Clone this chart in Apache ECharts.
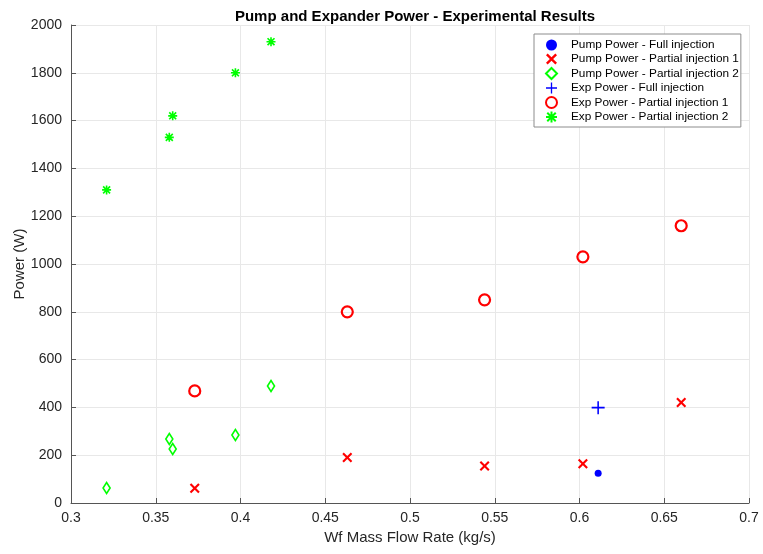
<!DOCTYPE html>
<html>
<head>
<meta charset="utf-8">
<script src="https://cdn.jsdelivr.net/npm/echarts@6/dist/echarts.min.js"></script>
<style>
  html, body { margin: 0; padding: 0; background: #fff; }
  #main { width: 763px; height: 554px; }
</style>
</head>
<body>
<div id="main"></div>
<script>
// values (x = kg/s, y = W)
let pumpFullX = [0.611];
let pumpFullY = [125];
let pumpPart1X = [0.373, 0.463, 0.544, 0.602, 0.660];
let pumpPart1Y = [62, 190, 155, 164, 421];
let pumpPart2X = [0.321, 0.358, 0.360, 0.397, 0.418];
let pumpPart2Y = [63, 268, 226, 285, 490];
let expFullX = [0.611];
let expFullY = [399];
let expPart1X = [0.373, 0.463, 0.544, 0.602, 0.660];
let expPart1Y = [469, 800, 850, 1030, 1160];
let expPart2X = [0.321, 0.358, 0.360, 0.397, 0.418];
let expPart2Y = [1310, 1530, 1620, 1800, 1930];

let seriesNames = [
    'Pump Power - Full injection',
    'Pump Power - Partial injection 1',
    'Pump Power - Partial injection 2',
    'Exp Power - Full injection',
    'Exp Power - Partial injection 1',
    'Exp Power - Partial injection 2'
];

function pairs(xs, ys) {
    let out = [];
    for (let i = 0; i < xs.length; i = i + 1) {
        out.push([xs[i], ys[i]]);
    }
    return out;
}

// marker shapes (filled outlines)
let crossPath = 'path://M0,1.5 L1.5,0 L5,3.5 L8.5,0 L10,1.5 L6.5,5 L10,8.5 L8.5,10 L5,6.5 L1.5,10 L0,8.5 L3.5,5 Z';
let plusPath = 'path://M4.4,0 L5.6,0 L5.6,4.4 L10,4.4 L10,5.6 L5.6,5.6 L5.6,10 L4.4,10 L4.4,5.6 L0,5.6 L0,4.4 L4.4,4.4 Z';
let starPath = 'path://M4.1,0 L5.9,0 L5.9,4.1 L10,4.1 L10,5.9 L5.9,5.9 L5.9,10 L4.1,10 L4.1,5.9 L0,5.9 L0,4.1 L4.1,4.1 Z ' +
    'M0.5,1.8 L1.8,0.5 L5,3.7 L8.2,0.5 L9.5,1.8 L6.3,5 L9.5,8.2 L8.2,9.5 L5,6.3 L1.8,9.5 L0.5,8.2 L3.7,5 Z';

let chart = echarts.init(document.getElementById('main'));

let font = 'Liberation Sans, Arial, Helvetica, sans-serif';

let option = {
    backgroundColor: '#ffffff',
    animation: false,
    title: {
        text: 'Pump and Expander Power - Experimental Results',
        left: 410,
        top: 4,
        textAlign: 'center',
        textStyle: { fontFamily: font, fontSize: 15, fontWeight: 'bold', color: '#000' }
    },
    grid: { left: 71, right: 14, top: 25, bottom: 51, containLabel: false, outerBoundsMode: 'none' },
    legend: {
        orient: 'vertical',
        left: 534,
        top: 34,
        padding: [5, 2, 4, 11],
        itemWidth: 11,
        itemHeight: 11,
        itemGap: 2,
        borderColor: '#8c8c8c',
        borderWidth: 1,
        backgroundColor: '#fff',
        textStyle: { fontFamily: font, fontSize: 11.8, color: '#000', padding: [0, 0, 0, 9] },
        data: seriesNames
    },
    xAxis: {
        type: 'value',
        min: 0.3,
        max: 0.7,
        interval: 0.05,
        name: 'Wf Mass Flow Rate (kg/s)',
        nameLocation: 'middle',
        nameGap: 27,
        nameMoveOverlap: false,
        nameTextStyle: { fontFamily: font, fontSize: 15, color: '#262626' },
        axisLine: { show: true, lineStyle: { color: '#555', width: 1 } },
        axisTick: { show: true, inside: true, length: 5, lineStyle: { color: '#555' } },
        axisLabel: {
            fontFamily: font, fontSize: 14, color: '#262626', margin: 8,
            formatter: function (v) { return String(+v.toFixed(2)); }
        },
        splitLine: { show: true, lineStyle: { color: '#e8e8e8', width: 1 } }
    },
    yAxis: {
        type: 'value',
        min: 0,
        max: 2000,
        interval: 200,
        name: 'Power (W)',
        nameLocation: 'middle',
        nameGap: 44,
        nameMoveOverlap: false,
        nameTextStyle: { fontFamily: font, fontSize: 15, color: '#262626' },
        axisLine: { show: true, lineStyle: { color: '#555', width: 1 } },
        axisTick: { show: true, inside: true, length: 5, lineStyle: { color: '#555' } },
        axisLabel: {
            fontFamily: font, fontSize: 14, color: '#262626', margin: 9,
            formatter: function (v) { return String(v); }
        },
        splitLine: { show: true, lineStyle: { color: '#e8e8e8', width: 1 } }
    },
    series: [
        {
            name: seriesNames[0],
            type: 'scatter',
            data: pairs(pumpFullX, pumpFullY),
            symbol: 'circle',
            symbolSize: 7,
            itemStyle: { color: '#0000ff', opacity: 1 }
        },
        {
            name: seriesNames[1],
            type: 'scatter',
            data: pairs(pumpPart1X, pumpPart1Y),
            symbol: crossPath,
            symbolSize: 10,
            itemStyle: { color: '#ff0000', opacity: 1 }
        },
        {
            name: seriesNames[2],
            type: 'scatter',
            data: pairs(pumpPart2X, pumpPart2Y),
            symbol: 'diamond',
            symbolSize: [7, 11],
            itemStyle: { color: 'rgba(255,255,255,0)', borderColor: '#00ff00', borderWidth: 1.7, opacity: 1 }
        },
        {
            name: seriesNames[3],
            type: 'scatter',
            data: pairs(expFullX, expFullY),
            symbol: plusPath,
            symbolSize: 13,
            itemStyle: { color: '#0000ff', opacity: 1 }
        },
        {
            name: seriesNames[4],
            type: 'scatter',
            data: pairs(expPart1X, expPart1Y),
            symbol: 'circle',
            symbolSize: 11,
            itemStyle: { color: 'rgba(255,255,255,0)', borderColor: '#ff0000', borderWidth: 2.2, opacity: 1 }
        },
        {
            name: seriesNames[5],
            type: 'scatter',
            data: pairs(expPart2X, expPart2Y),
            symbol: starPath,
            symbolSize: 9,
            itemStyle: { color: '#00ff00', opacity: 1 }
        }
    ]
};

chart.setOption(option);
</script>
</body>
</html>
